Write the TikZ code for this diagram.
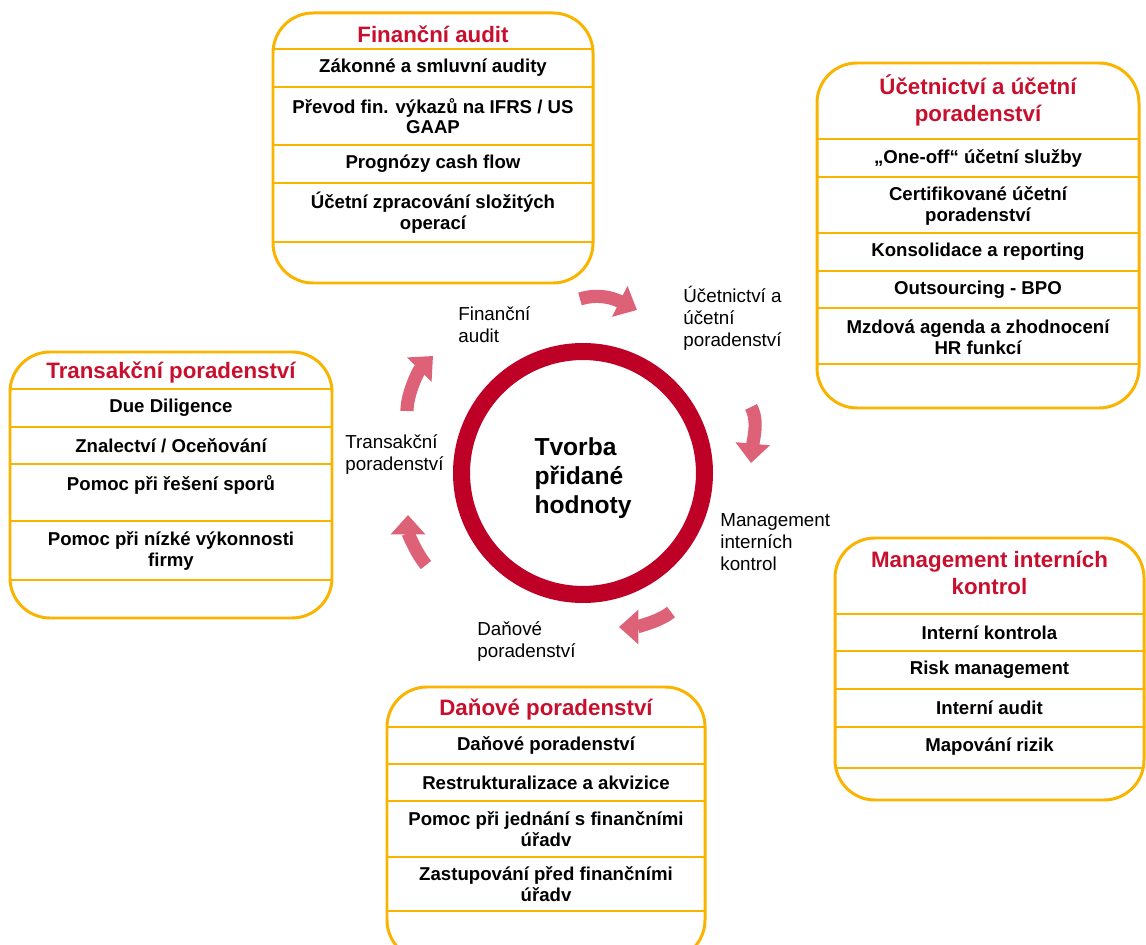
\documentclass[tikz,border=0pt]{standalone}
\usepackage{fontspec}
\setmainfont{Liberation Sans}
\usetikzlibrary{arrows.meta}
\definecolor{boxorange}{RGB}{250,180,0}
\definecolor{titlered}{RGB}{200,16,46}
\definecolor{ringred}{RGB}{190,0,38}
\definecolor{cyclepink}{RGB}{221,98,119}

\begin{document}
\begin{tikzpicture}[x=0.02cm, y=-0.02cm]
\tikzstyle{boxframe}=[draw=boxorange, line width=1.7pt, rounded corners=0.8cm];
\tikzstyle{boxrule}=[draw=boxorange, line width=1.1pt];
\tikzstyle{boxhead}=[text=titlered, font=\fontsize{12.7}{15.4}\selectfont\bfseries, align=center, inner sep=0];
\tikzstyle{boxitem}=[font=\fontsize{10.6}{11.8}\selectfont\bfseries, align=center, inner sep=0];
\tikzstyle{cyclelabel}=[font=\fontsize{10.7}{12.5}\selectfont, align=left, anchor=west, inner sep=0];
\tikzstyle{cyclearrow}=[draw=cyclepink, line width=7.5pt, -{Triangle[width=19pt,length=11pt]}];
\clip (0,0) rectangle (1146,945);

\node[draw=ringred, line width=9.7pt, circle, minimum size=4.86cm, inner sep=0] (ring) at (583,473) {};
\node[font=\fontsize{14}{16.5}\selectfont\bfseries, align=left, inner sep=0] (core) at (583,478) {Tvorba\\přidané\\hodnoty};

\node[cyclelabel] (lfa) at (458,325) {Finanční\\audit};
\node[cyclelabel] (lua) at (683,318) {Účetnictví a\\účetní\\poradenství};
\node[cyclelabel] (lmk) at (720,542) {Management\\interních\\kontrol};
\node[cyclelabel] (ldp) at (477,642) {Daňové\\poradenství};
\node[cyclelabel] (ltp) at (345,455) {Transakční\\poradenství};

\coordinate (fa-s) at (580,299);
\coordinate (fa-e) at (637,310);
\coordinate (ua-s) at (751,407);
\coordinate (ua-e) at (751,463);
\coordinate (mk-s) at (671,612);
\coordinate (mk-e) at (619,627);
\coordinate (dp-s) at (426,565);
\coordinate (dp-e) at (408,515);
\coordinate (tp-s) at (407,411);
\coordinate (tp-e) at (433,356);
\draw[cyclearrow] (fa-s) .. controls +(22,-7) and +(-18,-9) .. (fa-e);
\draw[cyclearrow] (ua-s) .. controls +(8,14) and +(2,-22) .. (ua-e);
\draw[cyclearrow] (mk-s) .. controls +(-12,10) and +(16,0) .. (mk-e);
\draw[cyclearrow] (dp-s) .. controls +(-10,-12) and +(0,18) .. (dp-e);
\draw[cyclearrow] (tp-s) .. controls +(0,-18) and +(-14,14) .. (tp-e);

\draw[boxframe] (273,13) rectangle (593,283);
\draw[boxrule] (273,49) -- (593,49)
(273,87) -- (593,87)
(273,145) -- (593,145)
(273,183) -- (593,183)
(273,242) -- (593,242);
\node[boxhead] (fa) at (433,34) {Finanční audit};
\node[boxitem] (fa1) at (433,68) {Zákonné a smluvní audity};
\node[boxitem] (fa2) at (433,116) {Převod fin. výkazů na IFRS / US\\GAAP};
\node[boxitem] (fa3) at (433,164) {Prognózy cash flow};
\node[boxitem] (fa4) at (433,213) {Účetní zpracování složitých\\operací};

\draw[boxframe] (817,63) rectangle (1139,408);
\draw[boxrule] (817,139) -- (1139,139)
(817,177) -- (1139,177)
(817,233) -- (1139,233)
(817,271) -- (1139,271)
(817,308) -- (1139,308)
(817,364) -- (1139,364);
\node[boxhead] (ua) at (978,100) {Účetnictví a účetní\\poradenství};
\node[boxitem] (ua1) at (978,158) {„One-off“ účetní služby};
\node[boxitem] (ua2) at (978,206) {Certifikované účetní\\poradenství};
\node[boxitem] (ua3) at (978,252) {Konsolidace a reporting};
\node[boxitem] (ua4) at (978,289.5) {Outsourcing - BPO};
\node[boxitem] (ua5) at (978,337) {Mzdová agenda a zhodnocení\\HR funkcí};

\draw[boxframe] (10,352) rectangle (332,618);
\draw[boxrule] (10,389) -- (332,389)
(10,427) -- (332,427)
(10,464) -- (332,464)
(10,521) -- (332,521)
(10,580) -- (332,580);
\node[boxhead] (tp) at (171,372) {Transakční poradenství};
\node[boxitem] (tp1) at (171,408) {Due Diligence};
\node[boxitem] (tp2) at (171,445.5) {Znalectví / Oceňování};
\node[boxitem] (tp3) at (171,485) {Pomoc při řešení sporů};
\node[boxitem] (tp4) at (171,551) {Pomoc při nízké výkonnosti\\firmy};

\draw[boxframe] (387,687) rectangle (705,960);
\draw[boxrule] (387,727) -- (705,727)
(387,764) -- (705,764)
(387,801) -- (705,801)
(387,857) -- (705,857)
(387,911) -- (705,911);
\node[boxhead] (dp) at (546,709) {Daňové poradenství};
\node[boxitem] (dp1) at (546,745.5) {Daňové poradenství};
\node[boxitem] (dp2) at (546,782.5) {Restrukturalizace a akvizice};
\node[boxitem] (dp3) at (546,829) {Pomoc při jednání s finančními\\úřadv};
\node[boxitem] (dp4) at (546,884) {Zastupování před finančními\\úřadv};

\draw[boxframe] (835,538) rectangle (1144,800);
\draw[boxrule] (835,614) -- (1144,614)
(835,651) -- (1144,651)
(835,689) -- (1144,689)
(835,727) -- (1144,727)
(835,768) -- (1144,768);
\node[boxhead] (mk) at (989.5,573) {Management interních\\kontrol};
\node[boxitem] (mk1) at (989.5,632.5) {Interní kontrola};
\node[boxitem] (mk2) at (989.5,670) {Risk management};
\node[boxitem] (mk3) at (989.5,708) {Interní audit};
\node[boxitem] (mk4) at (989.5,747) {Mapování rizik};
\end{tikzpicture}
\end{document}
